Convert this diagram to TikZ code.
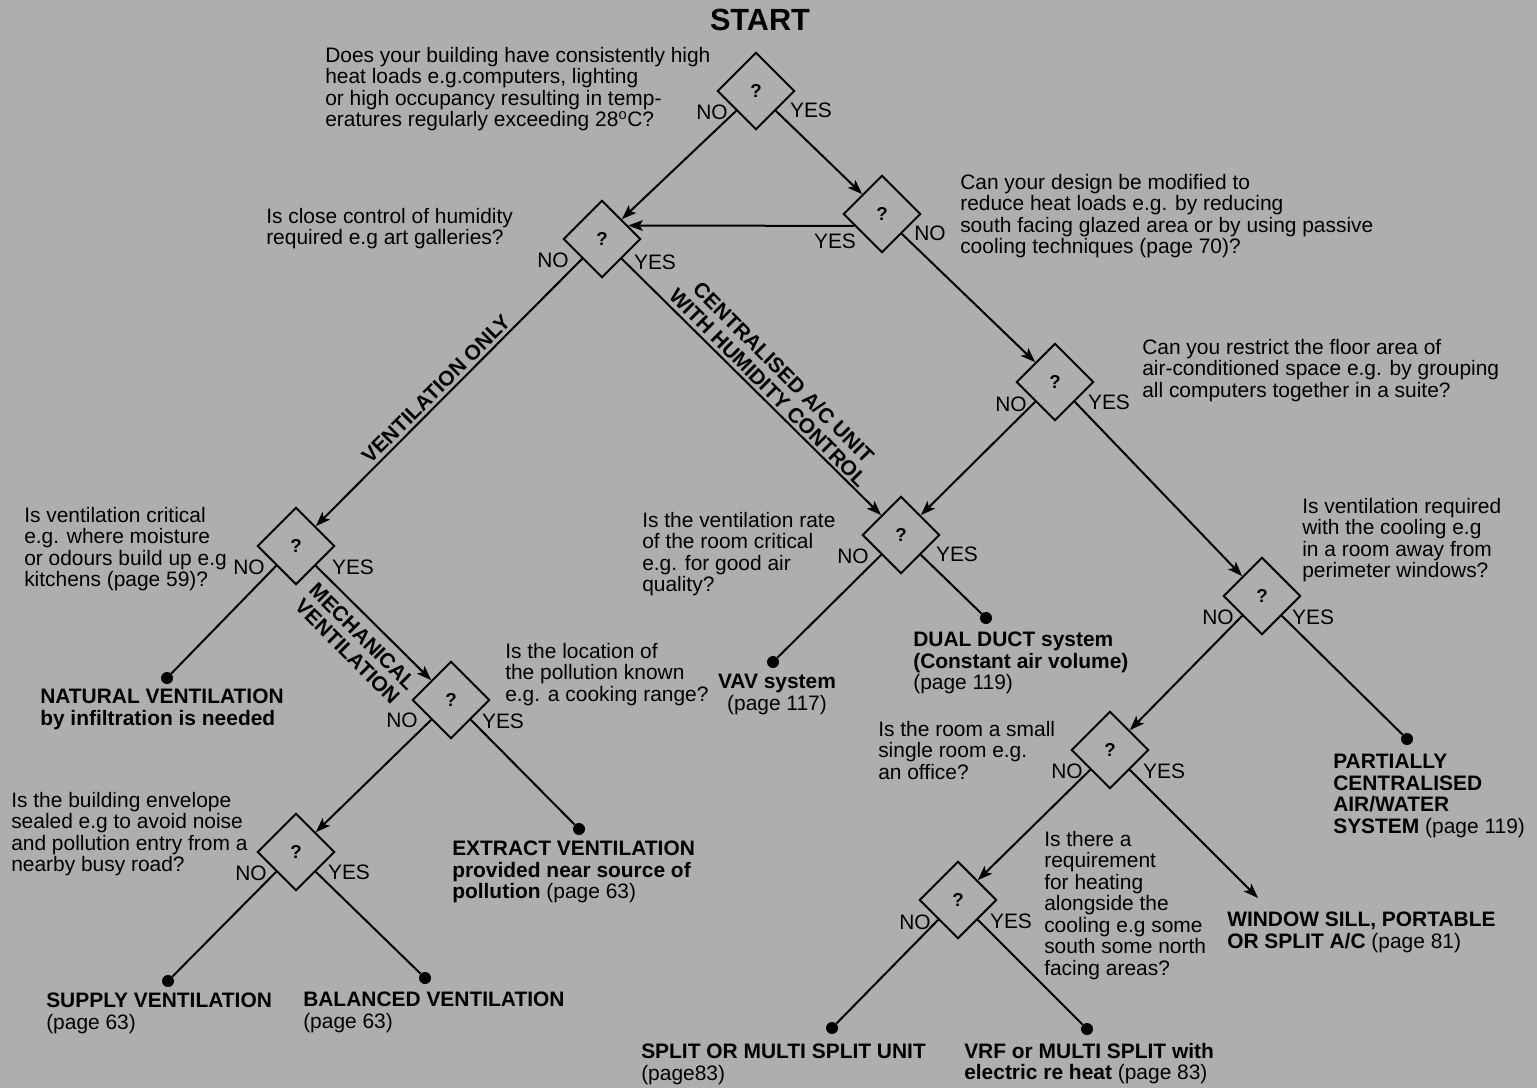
\documentclass[tikz,border=0pt]{standalone}
\usepackage{fontspec}
\setmainfont{Liberation Sans}
\usetikzlibrary{shapes.geometric,arrows.meta,calc}
\definecolor{bg}{RGB}{174,174,174}
\tikzset{
 q/.style={draw, line width=1.5pt, shape=diamond, aspect=1, inner sep=0pt, minimum width=58pt, minimum height=58pt, font=\fontsize{14}{16}\selectfont\bfseries},
 txt/.style={anchor=north west, inner sep=0pt, align=left, font=\fontsize{15.7}{16.1}\selectfont},
 lbl/.style={inner sep=0pt, font=\fontsize{15.7}{16.1}\selectfont},
 conn/.style={line width=1.5pt},
 arr/.style={conn, -{Stealth[length=11pt,width=8pt,inset=2.5pt]}},
 dot/.style={circle, fill=black, inner sep=0pt, minimum size=9pt},
 diag/.style={inner sep=0pt, align=center, font=\fontsize{15.7}{16.1}\selectfont\bfseries},
}
\begin{document}
\begin{tikzpicture}[x=0.75pt,y=-0.75pt]
\fill[bg] (0,0) rectangle (1537,1088);
\useasboundingbox (0,0) rectangle (1537,1088);

% title
\node[inner sep=0pt, font=\fontsize{23}{26}\selectfont\bfseries] (start) at (760,20) {START};

% diamonds
\node[q] (D1) at (756,91) {?};
\node[q] (D2) at (602,239) {?};
\node[q] (D3) at (882,214) {?};
\node[q] (D4) at (1055,382) {?};
\node[q] (D5) at (296,546) {?};
\node[q] (D6) at (901,535) {?};
\node[q] (D7) at (1262,596) {?};
\node[q] (D8) at (451,700) {?};
\node[q] (D9) at (1110,750) {?};
\node[q] (D10) at (296,852) {?};
\node[q] (D11) at (958,900) {?};

% terminal dots
\node[dot] (E1) at (167,678) {};
\node[dot] (E2) at (773,662) {};
\node[dot] (E3) at (986,618) {};
\node[dot] (E4) at (1407,739) {};
\node[dot] (E5) at (579,829) {};
\node[dot] (E6) at (168,981) {};
\node[dot] (E7) at (425,978) {};
\node[dot] (E8) at (832,1028) {};
\node[dot] (E9) at (1087,1029) {};
\coordinate (W) at (1258,898);

% connectors
\draw[arr] (D1.south west) -- (D2.north east);
\draw[arr] (D1.south east) -- (D3.north west);
\draw[arr] ($(D3.west)!0.3!(D3.south)$) -- ($(D2.north)!0.66!(D2.east)$);
\draw[arr] (D3.south east) -- (D4.north west);
\draw[arr] (D2.south west) -- (D5.north east);
\draw[arr] (D2.south east) -- (D6.north west);
\draw[arr] (D4.south west) -- (D6.north east);
\draw[arr] (D4.south east) -- (D7.north west);
\draw[conn] (D5.south west) -- (E1);
\draw[arr] (D5.south east) -- (D8.north west);
\draw[conn] (D6.south west) -- (E2);
\draw[conn] (D6.south east) -- (E3);
\draw[arr] (D7.south west) -- (D9.north east);
\draw[conn] (D7.south east) -- (E4);
\draw[arr] (D8.south west) -- (D10.north east);
\draw[conn] (D8.south east) -- (E5);
\draw[arr] (D9.south west) -- (D11.north east);
\draw[arr] (D9.south east) -- (W);
\draw[conn] (D10.south west) -- (E6);
\draw[conn] (D10.south east) -- (E7);
\draw[conn] (D11.south west) -- (E8);
\draw[conn] (D11.south east) -- (E9);

% NO / YES labels
\node[lbl] (n1) at (712,112) {NO};   \node[lbl] (y1) at (811,110) {YES};
\node[lbl] (n2) at (553,260) {NO};   \node[lbl] (y2) at (655,262) {YES};
\node[lbl] (y3) at (835,241) {YES};  \node[lbl] (n3) at (930,233) {NO};
\node[lbl] (n4) at (1011,404) {NO};  \node[lbl] (y4) at (1109,402) {YES};
\node[lbl] (n5) at (249,567) {NO};   \node[lbl] (y5) at (353,567) {YES};
\node[lbl] (n6) at (853,556) {NO};   \node[lbl] (y6) at (957,554) {YES};
\node[lbl] (n7) at (1218,617) {NO};  \node[lbl] (y7) at (1313,617) {YES};
\node[lbl] (n8) at (402,720) {NO};   \node[lbl] (y8) at (503,721) {YES};
\node[lbl] (n9) at (1067,771) {NO};  \node[lbl] (y9) at (1164,771) {YES};
\node[lbl] (n10) at (251,873) {NO};  \node[lbl] (y10) at (349,872) {YES};
\node[lbl] (n11) at (915,922) {NO};  \node[lbl] (y11) at (1011,921) {YES};

% branch labels
\node[diag, rotate=45] (L1) at (436,389) {VENTILATION ONLY};
\node[diag, rotate=-45] (L2) at (776,380) {CENTRALISED A/C UNIT\\WITH HUMIDITY CONTROL};
\node[diag, rotate=-45] (L3) at (355,644) {MECHANICAL\\VENTILATION};

% questions
\node[txt] (Q1) at (325,47) {Does your building have consistently high\\heat loads e.g.computers, lighting\\or high occupancy resulting in temp-\\eratures regularly exceeding 28\textsuperscript{o}C?};
\node[txt] (Q2) at (266,208) {Is close control of humidity\\required e.g art galleries?};
\node[txt] (Q3) at (960,174) {Can your design be modified to\\reduce heat loads e.g. by reducing\\south facing glazed area or by using passive\\cooling techniques (page 70)?};
\node[txt] (Q4) at (1142,339) {Can you restrict the floor area of\\air-conditioned space e.g. by grouping\\all computers together in a suite?};
\node[txt] (Q5) at (24,507) {Is ventilation critical\\e.g. where moisture\\or odours build up e.g\\kitchens (page 59)?};
\node[txt] (Q6) at (642,512) {Is the ventilation rate\\of the room critical\\e.g. for good air\\quality?};
\node[txt] (Q7) at (1302,498) {Is ventilation required\\with the cooling e.g\\in a room away from\\perimeter windows?};
\node[txt] (Q8) at (505,643) {Is the location of\\the pollution known\\e.g. a cooking range?};
\node[txt] (Q9) at (878,721) {Is the room a small\\single room e.g.\\an office?};
\node[txt] (Q10) at (11,792) {Is the building envelope\\sealed e.g to avoid noise\\and pollution entry from a\\nearby busy road?};
\node[txt] (Q11) at (1044,831) {Is there a\\requirement\\for heating\\alongside the\\cooling e.g some\\south some north\\facing areas?};

% outcomes
\node[txt] (T1) at (40,689) {\textbf{NATURAL VENTILATION}\\\textbf{by infiltration is needed}};
\node[txt, anchor=north, align=center] (T2) at (777,674) {\textbf{VAV system}\\(page 117)};
\node[txt] (T3) at (913,632) {\textbf{DUAL DUCT system}\\\textbf{(Constant air volume)}\\(page 119)};
\node[txt] (T4) at (1333,754) {\textbf{PARTIALLY}\\\textbf{CENTRALISED}\\\textbf{AIR/WATER}\\\textbf{SYSTEM} (page 119)};
\node[txt] (T5) at (452,841) {\textbf{EXTRACT VENTILATION}\\\textbf{provided near source of}\\\textbf{pollution} (page 63)};
\node[txt] (T6) at (1227,912) {\textbf{WINDOW SILL, PORTABLE}\\\textbf{OR SPLIT A/C} (page 81)};
\node[txt] (T7) at (46,993) {\textbf{SUPPLY VENTILATION}\\(page 63)};
\node[txt] (T8) at (303,992) {\textbf{BALANCED VENTILATION}\\(page 63)};
\node[txt] (T9) at (641,1044) {\textbf{SPLIT OR MULTI SPLIT UNIT}\\(page83)};
\node[txt] (T10) at (964,1043) {\textbf{VRF or MULTI SPLIT with}\\\textbf{electric re heat} (page 83)};
\end{tikzpicture}
\end{document}
